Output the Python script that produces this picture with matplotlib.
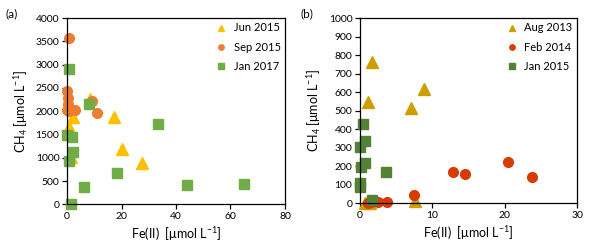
import matplotlib
matplotlib.use("Agg")
import matplotlib.pyplot as plt

plt.rcParams['font.family'] = ['Lato', 'DejaVu Sans']
plt.rcParams['mathtext.default'] = 'regular'

# panel (a)
jun15_fe = [8.5, 2.2, 17.3, 0.75, 20.3, 27.4, 1.6]
jun15_ch4 = [2260, 1885, 1885, 1657, 1191, 897, 1026]

sep15_fe = [0.8, 0.0, 0.2, 0.5, 0.0, 0.9, 2.8, 9.0, 11.0]
sep15_ch4 = [3565, 2440, 2280, 2150, 2015, 2000, 2025, 2220, 1958]

jan17_fe = [0.75, 8.1, 0.0, 2.0, 2.2, 0.75, 33.5, 18.2, 6.3, 44.2, 64.8, 1.4]
jan17_ch4 = [2900, 2150, 1480, 1443, 1120, 934, 1722, 670, 361, 412, 434, 0]

# panel (b)
aug13_fe = [1.6, 1.15, 7.1, 8.9, 7.6, 0.7, 1.4]
aug13_ch4 = [760, 548, 512, 615, 10, 2, 0]

feb14_fe = [1.1, 1.5, 2.5, 3.7, 7.4, 12.8, 14.5, 20.5, 23.8]
feb14_ch4 = [3, 6, 7, 7, 42, 170, 155, 220, 139]

jan15_fe = [0.35, 0.65, 0.05, 0.7, 0.1, 3.6, 0.05, 0.05, 1.6]
jan15_ch4 = [426, 334, 302, 218, 195, 170, 108, 90, 15]

fig = plt.figure(figsize=(5.89, 2.49), dpi=100)
ax1 = fig.add_axes([0.1138, 0.1795, 0.370, 0.748])
ax2 = fig.add_axes([0.6112, 0.1840, 0.3684, 0.7437])

ms = 7

ax1.plot(jun15_fe, jun15_ch4, '^', color='#FFC000', ms=ms + 1, label='Jun 2015', clip_on=False)
ax1.plot(sep15_fe, sep15_ch4, 'o', color='#ED7D31', ms=ms, label='Sep 2015', clip_on=False)
ax1.plot(jan17_fe, jan17_ch4, 's', color='#70AD47', ms=ms, label='Jan 2017', clip_on=False)
ax1.set_xlim(0, 80)
ax1.set_ylim(0, 4000)
ax1.set_xticks([0, 20, 40, 60, 80])
ax1.set_yticks(range(0, 4001, 500))

ax2.plot(aug13_fe, aug13_ch4, '^', color='#CC9E00', ms=ms + 1, label='Aug 2013', clip_on=False)
ax2.plot(feb14_fe, feb14_ch4, 'o', color='#D83B01', ms=ms, label='Feb 2014', clip_on=False)
ax2.plot(jan15_fe, jan15_ch4, 's', color='#538135', ms=ms, label='Jan 2015', clip_on=False)
ax2.set_xlim(0, 30)
ax2.set_ylim(0, 1000)
ax2.set_xticks([0, 10, 20, 30])
ax2.set_yticks(range(0, 1001, 100))

for ax, tag in [(ax1, '(a)'), (ax2, '(b)')]:
    for sp in ax.spines.values():
        sp.set_linewidth(0.9)
    ax.tick_params(direction='out', length=3.5, width=0.9, labelsize=7.5, pad=2)
    ax.set_xlabel(r'Fe(II)  [μmol L$^{-1}$]', fontsize=9, labelpad=3)
    ax.set_ylabel(r'CH$_4$ [μmol L$^{-1}$]', fontsize=9, labelpad=4)
    ax.legend(loc='upper right', frameon=False, fontsize=8, markerscale=0.55,
              handletextpad=0.7, labelspacing=0.75, borderaxespad=0.1,
              handlelength=0.8, borderpad=0.3)

fig.text(0.009, 0.945, '(a)', fontsize=8.5, va='center')
fig.text(0.510, 0.945, '(b)', fontsize=8.5, va='center')

fig.savefig('out.png', dpi=100)
